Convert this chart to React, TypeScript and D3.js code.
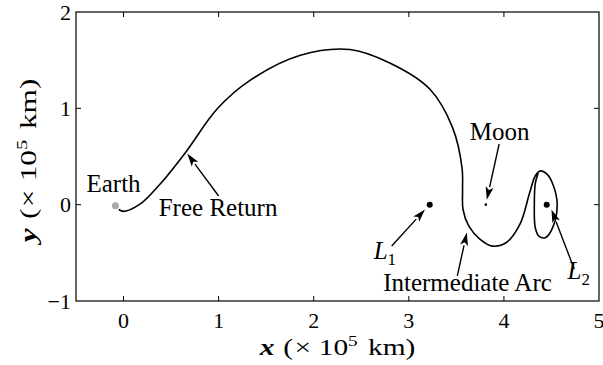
import * as React from 'react';
import * as d3 from 'd3';

// trajectory in units of 1e5 km
const trajX = [-0.05, 0, 0.18, 0.39, 0.65, 0.99, 1.33, 1.86, 2.38, 2.8, 3.22, 3.46, 3.56, 3.565, 3.57, 3.63, 3.75, 3.88, 4.03, 4.17, 4.27, 4.33, 4.38, 4.46, 4.52, 4.56, 4.52, 4.44, 4.37, 4.33, 4.32, 4.33, 4.36];
const trajY = [-0.05, -0.07, 0.01, 0.22, 0.54, 1.0, 1.29, 1.55, 1.61, 1.47, 1.2, 0.8, 0.38, 0.15, -0.05, -0.22, -0.36, -0.43, -0.39, -0.2, 0.12, 0.3, 0.35, 0.31, 0.2, 0.01, -0.22, -0.34, -0.33, -0.24, 0.01, 0.22, 0.33];

const pointNames = ['Earth', 'Moon', 'L1', 'L2'];
const pointX = [-0.085, 3.81, 3.22, 4.45];
const pointY = [-0.01, 0.0, 0, 0];

const labelNames = ['Earth', 'Free Return', 'Moon', 'L1', 'Intermediate Arc', 'L2'];
const labelX = [-0.39, 0.37, 3.64, 2.63, 2.73, 4.67];
const labelY = [0.135, -0.115, 0.675, -0.56, -0.893, -0.77];

const arrowNames = ['Free Return', 'Moon', 'L1', 'Intermediate Arc', 'L2'];
const arrowFrom = [[1.0, 0.09], [3.95, 0.63], [2.82, -0.43], [3.51, -0.74], [4.74, -0.67]];
const arrowTo = [[0.67, 0.53], [3.82, 0.05], [3.17, -0.05], [3.61, -0.29], [4.5, -0.05]];

const xTicks = [0, 1, 2, 3, 4, 5];
const yTicks = [-1, 0, 1, 2];

const serif = '"Liberation Serif", "Times New Roman", serif';

export default function App() {
  const ref = React.useRef<SVGSVGElement>(null);

  React.useEffect(() => {
    const width = 603;
    const height = 365;
    const margin = {top: 12, right: 4, bottom: 64, left: 76};
    const svg = d3.select(ref.current);
    svg.selectAll('*').remove();

    const x = d3.scaleLinear().domain([-0.5, 5]).range([margin.left, width - margin.right]);
    const y = d3.scaleLinear().domain([-1, 2]).range([height - margin.bottom, margin.top]);

    // frame
    svg.append('rect')
      .attr('x', x(-0.5)).attr('y', y(2))
      .attr('width', x(5) - x(-0.5)).attr('height', y(-1) - y(2))
      .attr('fill', 'none').attr('stroke', '#000').attr('stroke-width', 1.2);

    // inward ticks on all four sides
    const tl = 5;
    xTicks.filter(t => t > -0.5 && t < 5).forEach(t => {
      svg.append('line').attr('x1', x(t)).attr('x2', x(t)).attr('y1', y(-1)).attr('y2', y(-1) - tl).attr('stroke', '#000');
      svg.append('line').attr('x1', x(t)).attr('x2', x(t)).attr('y1', y(2)).attr('y2', y(2) + tl).attr('stroke', '#000');
    });
    yTicks.filter(t => t > -1 && t < 2).forEach(t => {
      svg.append('line').attr('y1', y(t)).attr('y2', y(t)).attr('x1', x(-0.5)).attr('x2', x(-0.5) + tl).attr('stroke', '#000');
      svg.append('line').attr('y1', y(t)).attr('y2', y(t)).attr('x1', x(5)).attr('x2', x(5) - tl).attr('stroke', '#000');
    });

    svg.append('g').selectAll('text').data(xTicks).enter().append('text')
      .attr('x', d => x(d)).attr('y', y(-1) + 27)
      .attr('text-anchor', 'middle')
      .style('font-family', serif).style('font-size', '22px')
      .text(d => d);

    svg.append('g').selectAll('text').data(yTicks).enter().append('text')
      .attr('x', x(-0.5) - 5).attr('y', d => y(d)).attr('dy', '0.35em')
      .attr('text-anchor', 'end')
      .style('font-family', serif).style('font-size', '22px')
      .text(d => (d < 0 ? '\u2212' + Math.abs(d) : d));

    // axis labels (glyphs in the scan are a bit wider than they are tall)
    const axisLabel = (sel, v) => {
      sel.append('tspan').style('font-style', 'italic').style('font-weight', 'bold').text(v);
      sel.append('tspan').attr('dx', 7).text('(');
      sel.append('tspan').attr('dx', 1).text('\u00d7');
      sel.append('tspan').attr('dx', 6).text('10');
      sel.append('tspan').attr('dy', -9).style('font-size', '15px').text('5');
      sel.append('tspan').attr('dy', 9).attr('dx', 8).text('km)');
    };
    const xl = svg.append('text')
      .attr('transform', `translate(${(x(-0.5) + x(5)) / 2},355) scale(1.28,1)`)
      .attr('text-anchor', 'middle')
      .style('font-family', serif).style('font-size', '23px');
    axisLabel(xl, 'x');

    const yl = svg.append('text')
      .attr('transform', `translate(36,${(y(-1) + y(2)) / 2 + 4}) rotate(-90) scale(1.36,1)`)
      .attr('text-anchor', 'middle')
      .style('font-family', serif).style('font-size', '23px');
    axisLabel(yl, 'y');

    // trajectory
    const pts = trajX.map((d, i) => [d, trajY[i]] as [number, number]);
    const line = d3.line<[number, number]>()
      .x(d => x(d[0])).y(d => y(d[1]))
      .curve(d3.curveCatmullRom.alpha(0.5));
    svg.append('path').attr('d', line(pts)).attr('fill', 'none')
      .attr('stroke', '#000').attr('stroke-width', 1.6);

    // points
    pointNames.forEach((n, i) => {
      svg.append('circle')
        .attr('cx', x(pointX[i])).attr('cy', y(pointY[i]))
        .attr('r', n === 'Earth' ? 3.5 : n === 'Moon' ? 1.3 : 3)
        .attr('fill', n === 'Earth' ? '#aaa' : '#000');
    });

    // arrows
    arrowNames.forEach((n, i) => {
      const x0 = x(arrowFrom[i][0]), y0 = y(arrowFrom[i][1]);
      const x1 = x(arrowTo[i][0]), y1 = y(arrowTo[i][1]);
      const ang = Math.atan2(y1 - y0, x1 - x0);
      const hl = 13, hw = 4;
      const bx = x1 - hl * Math.cos(ang), by = y1 - hl * Math.sin(ang);
      svg.append('line').attr('x1', x0).attr('y1', y0).attr('x2', bx).attr('y2', by)
        .attr('stroke', '#000').attr('stroke-width', 1.4);
      const px = -Math.sin(ang) * hw, py = Math.cos(ang) * hw;
      const nx = x1 - (hl - 3) * Math.cos(ang), ny = y1 - (hl - 3) * Math.sin(ang);
      svg.append('path')
        .attr('d', `M${x1},${y1}L${bx + px},${by + py}L${nx},${ny}L${bx - px},${by - py}Z`)
        .attr('fill', '#000');
    });

    // labels
    labelNames.forEach((n, i) => {
      const t = svg.append('text')
        .attr('x', x(labelX[i])).attr('y', y(labelY[i]))
        .style('font-family', serif).style('font-size', '25px');
      if (n === 'L1' || n === 'L2') {
        t.append('tspan').style('font-style', 'italic').text('L');
        t.append('tspan').attr('dy', 6).style('font-size', '17px').text(n.slice(1));
      } else {
        t.text(n);
      }
    });
  }, []);

  return (
    <svg ref={ref} width={603} height={365} style={{display: 'block', position: 'absolute', left: 0, top: 0, background: '#fff'}}></svg>
  );
}
